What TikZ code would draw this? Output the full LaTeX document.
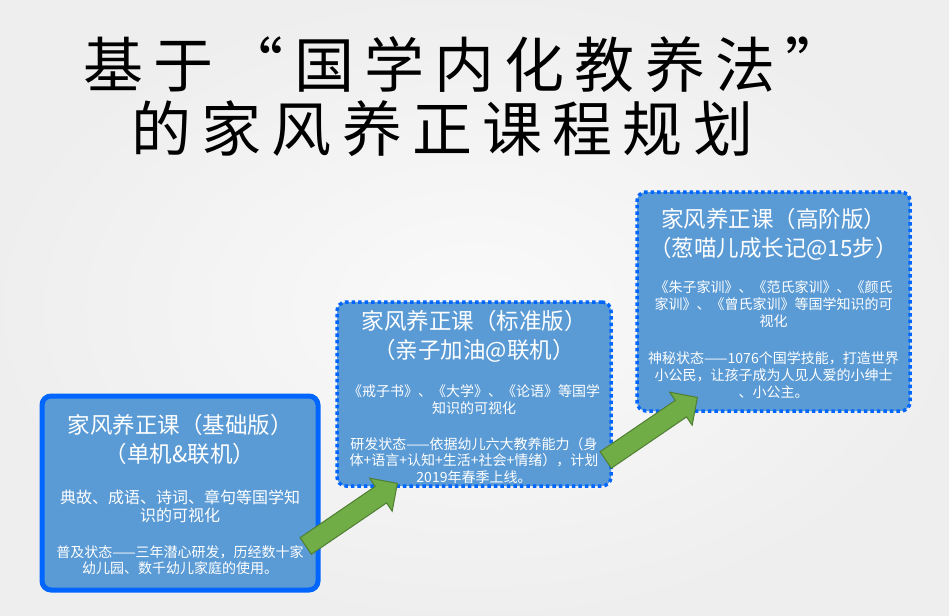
\documentclass[tikz,border=0pt]{standalone}
\usepackage{fontspec}
\setmainfont{Noto Sans CJK SC}
\newfontfamily\titlefont[LetterSpace=17]{Noto Sans CJK SC}
\usetikzlibrary{shapes,shapes.arrows,arrows.meta,calc}
\definecolor{cardblue}{RGB}{91,155,213}
\definecolor{edgeblue}{RGB}{0,102,255}
\definecolor{arrowgreen}{RGB}{112,173,71}
\definecolor{arrowedge}{RGB}{80,126,50}

\begin{document}
\begin{tikzpicture}
  [
    x=1pt, y=-1pt,
    card/.style =
      {rectangle, rounded corners=9pt, fill=cardblue, inner sep=0pt, outer sep=0pt},
    solidcard/.style =
      {card, draw=edgeblue, line width=5pt},
    dotcard/.style =
      {card, draw=edgeblue, line width=3.5pt, dash pattern=on 3.5pt off 3pt},
    headtext/.style =
      {align=center, text=white, font=\fontsize{22.5}{29}\selectfont},
    bodytext/.style =
      {align=center, text=white, font=\fontsize{14}{16.5}\selectfont},
    stagearrow/.style =
      {single arrow, draw=arrowedge, fill=arrowgreen, line width=1pt,
       minimum height=111pt, inner xsep=0pt, inner ysep=9.5pt,
       single arrow head extend=10pt, rotate=34.3, anchor=tip}
  ]

\shade [inner color=gray!4, outer color=gray!13] (0,0) rectangle (949,615);
\useasboundingbox (0,0) rectangle (949,615);

\node[anchor=base west, font=\titlefont\fontsize{60}{60}\selectfont] (title-a) at (80,88) {基于“国学内化教养法”};
\node[anchor=base west, font=\titlefont\fontsize{60}{60}\selectfont] (title-b) at (128,151) {的家风养正课程规划};

% three course cards
\node[solidcard, minimum width=276, minimum height=194] (basic) at (180,493) {};
\node[dotcard, minimum width=274, minimum height=184] (std) at (474,394) {};
\node[dotcard, minimum width=273, minimum height=219] (adv) at (773.5,301.5) {};

\node[headtext] (basic-head) at ($(basic.north)+(0,43)$) {家风养正课（基础版）\\（单机\&联机）};
\node[bodytext, font=\fontsize{16}{18}\selectfont] (basic-body) at ($(basic.north)+(0,110)$)
  {典故、成语、诗词、章句等国学知\\识的可视化};
\node[bodytext] (basic-note) at ($(basic.north)+(0,164)$)
  {普及状态——三年潜心研发，历经数十家\\幼儿园、数千幼儿家庭的使用。};

\node[headtext] (std-head) at ($(std.north)+(0,34.5)$) {家风养正课（标准版）\\（亲子加油@联机）};
\node[bodytext] (std-body) at ($(std.north)+(0,132)$)
  {《戒子书》、《大学》、《论语》等国学\\知识的可视化\\[19.5pt]研发状态——依据幼儿六大教养能力（身\\体+语言+认知+生活+社会+情绪），计划\\2019年春季上线。};

\node[headtext] (adv-head) at ($(adv.north)+(0,42)$) {家风养正课（高阶版）\\（葱喵儿成长记@15步）};
\node[bodytext, font=\fontsize{14}{17}\selectfont] (adv-body) at ($(adv.north)+(0,148)$)
  {《朱子家训》、《范氏家训》、《颜氏\\家训》、《曾氏家训》等国学知识的可\\视化\\[20pt]神秘状态——1076个国学技能，打造世界\\小公民，让孩子成为人见人爱的小绅士\\、小公主。};

% green steps between the cards
\node[stagearrow] (arrow-a) at ($(std.south west)+(61,-3)$) {};
\node[stagearrow] (arrow-b) at ($(adv.south west)+(61,-14)$) {};
\end{tikzpicture}
\end{document}
